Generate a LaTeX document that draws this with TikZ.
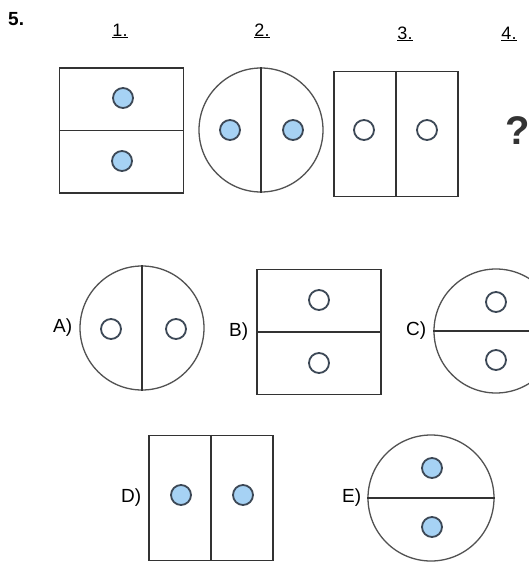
\documentclass[tikz,border=0pt]{standalone}
\usepackage{fontspec}
\setmainfont{Liberation Sans}
\usetikzlibrary{positioning}
\definecolor{dotblue}{HTML}{A6D2F4}
\definecolor{dotrim}{HTML}{3C4856}
\definecolor{edge}{HTML}{333333}
\tikzset{
  panel/.style={draw=edge, line width=1.3pt, inner sep=0pt, minimum width=124pt, minimum height=125pt},
  disc/.style={draw=edge!85, line width=1.3pt, circle, inner sep=0pt, minimum size=124pt},
  divider/.style={edge, line width=1.3pt},
  dot/.style={circle, draw=dotrim, fill=dotblue, line width=1.8pt, inner sep=0pt, minimum size=20pt},
  ring/.style={circle, draw=dotrim, line width=1.8pt, inner sep=0pt, minimum size=20pt},
  lbl/.style={inner sep=0pt, font=\fontsize{19}{20}\selectfont},
  num/.style={inner sep=0pt, anchor=base, font=\fontsize{18}{20}\selectfont}
}
\begin{document}
\begin{tikzpicture}[x=1pt, y=-1pt]
    \useasboundingbox[fill=white] (0,0) rectangle (529,565);

    % Task number and sequence labels
    \node[inner sep=0pt, anchor=base west, font=\fontsize{19}{20}\selectfont\bfseries] (task) at (8,25.5) {5.};
    \node[num] (n1) at (120,36) {\underline{1.}};
    \node[num] (n2) at (262,36) {\underline{2.}};
    \node[num] (n3) at (405,39) {\underline{3.}};
    \node[num] (n4) at (509,39) {\underline{4.}};

    % Sequence figures
    \node[panel] (f1) at (121.5,130.5) {};
    \draw[divider] (f1.west) -- (f1.east);
    \node[dot] (f1a) at (123,98) {};
    \node[dot] (f1b) at (122,161) {};

    \node[disc] (f2) at (261,130) {};
    \draw[divider] (f2.north) -- (f2.south);
    \node[dot] (f2a) at (230,130) {};
    \node[dot] (f2b) at (293,130) {};

    \node[panel] (f3) at (396,134) {};
    \draw[divider] (f3.north) -- (f3.south);
    \node[ring] (f3a) at (364,130) {};
    \node[ring] (f3b) at (427,130) {};

    \node[inner sep=0pt, font=\fontsize{40}{42}\selectfont\bfseries, text=edge] (ask) at (518,131) {?};

    % Answer A
    \node[disc] (ansA) at (142,328) {};
    \draw[divider] (ansA.north) -- (ansA.south);
    \node[ring] (ansAa) at (111,329) {};
    \node[ring] (ansAb) at (176,329) {};
    \node[lbl, left=7pt of ansA] (labA) {A)};

    % Answer B
    \node[panel] (ansB) at (319,332) {};
    \draw[divider] (ansB.west) -- (ansB.east);
    \node[ring] (ansBa) at (319,300) {};
    \node[ring] (ansBb) at (319,363) {};
    \node[lbl, left=8pt of ansB] (labB) {B)};

    % Answer C
    \node[disc] (ansC) at (496,331) {};
    \draw[divider] (ansC.west) -- (ansC.east);
    \node[ring] (ansCa) at (496,302) {};
    \node[ring] (ansCb) at (496,360) {};
    \node[lbl, left=7pt of ansC] (labC) {C)};

    % Answer D
    \node[panel] (ansD) at (211,498) {};
    \draw[divider] (ansD.north) -- (ansD.south);
    \node[dot] (ansDa) at (181,495) {};
    \node[dot] (ansDb) at (243,495) {};
    \node[lbl, left=7pt of ansD] (labD) {D)};

    % Answer E
    \node[disc, minimum size=126pt] (ansE) at (431,498) {};
    \draw[divider] (ansE.west) -- (ansE.east);
    \node[dot] (ansEa) at (432,468) {};
    \node[dot] (ansEb) at (432,527) {};
    \node[lbl, left=6pt of ansE] (labE) {E)};
\end{tikzpicture}
\end{document}
